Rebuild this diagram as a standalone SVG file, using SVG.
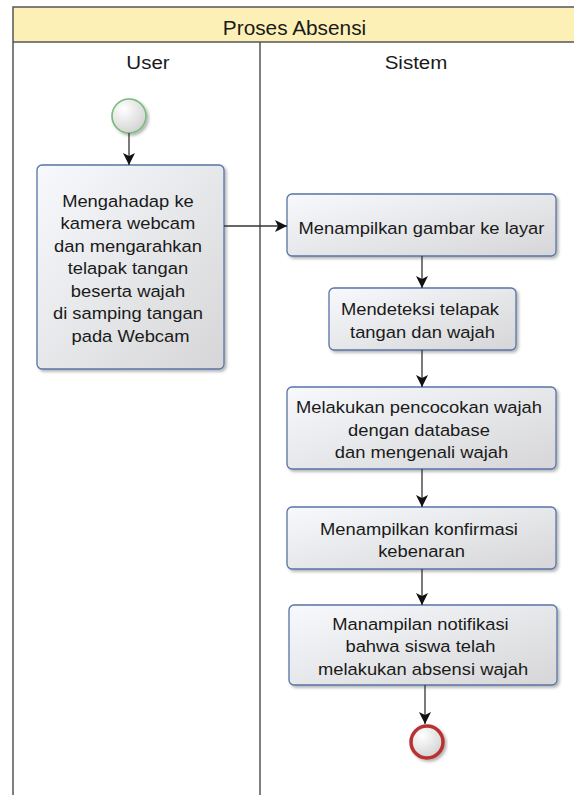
<svg xmlns="http://www.w3.org/2000/svg" width="574" height="795" viewBox="0 0 574 795">
<defs>
<linearGradient id="boxFill" x1="0" y1="0" x2="1" y2="1">
<stop offset="0" stop-color="#f7f9fc"/>
<stop offset="1" stop-color="#d6d6d8"/>
</linearGradient>
<radialGradient id="circFill" cx="0.35" cy="0.3" r="0.8">
<stop offset="0" stop-color="#ffffff"/>
<stop offset="1" stop-color="#cfcfcf"/>
</radialGradient>
<filter id="shadow" x="-10%" y="-10%" width="125%" height="130%">
<feDropShadow dx="2" dy="2" stdDeviation="1.5" flood-color="#000" flood-opacity="0.3"/>
</filter>
<marker id="arrow" viewBox="0 0 12 12" refX="12" refY="6" markerWidth="12" markerHeight="12" markerUnits="userSpaceOnUse" orient="auto">
<path d="M0,0 L12,6 L0,12 L3,6 Z" fill="#111"/>
</marker>
</defs>
<style>
.frame{fill:none;stroke:#555;stroke-width:1.5}
.box{fill:url(#boxFill);stroke:#5874a6;stroke-width:1.3;filter:url(#shadow)}
.t{font-family:"Liberation Sans",Arial,sans-serif;font-size:17px;fill:#1a1a1a;text-anchor:middle}
.h{font-family:"Liberation Sans",Arial,sans-serif;font-size:19px;fill:#1a1a1a;text-anchor:middle}
.conn{fill:none;stroke:#333;stroke-width:1.3;marker-end:url(#arrow)}
</style>
<rect x="0" y="0" width="574" height="795" fill="#ffffff"/>
<g id="pool">
<rect x="13" y="7" width="565" height="35" fill="#fdf0b6"/>
<rect x="13" y="7" width="565" height="800" class="frame"/>
<line x1="13" y1="42" x2="578" y2="42" class="frame"/>
<line x1="260" y1="42" x2="260" y2="800" class="frame"/>
<text class="h" transform="translate(294.5,35) scale(1.04,1)" style="font-size:20px">Proses Absensi</text>
<text class="h" transform="translate(148,69) scale(1.08,1)">User</text>
<text class="h" transform="translate(416,69) scale(1.08,1)">Sistem</text>
</g>
<g id="start">
<circle cx="129" cy="116" r="17" fill="url(#circFill)" stroke="#78bb78" stroke-width="1.6" filter="url(#shadow)"/>
</g>
<g id="b1">
<rect class="box" x="37" y="165" width="187" height="204" rx="5"/>
<text class="t" transform="translate(130.5,0) scale(1.08,1)">
<tspan x="0" y="207">Mengahadap ke</tspan>
<tspan x="0" y="229.5">kamera webcam</tspan>
<tspan x="0" y="252">dan mengarahkan</tspan>
<tspan x="0" y="274.5">telapak tangan</tspan>
<tspan x="0" y="297">beserta wajah</tspan>
<tspan x="0" y="319.5">di samping tangan</tspan>
<tspan x="0" y="342">pada Webcam</tspan>
</text>
</g>
<g id="b2">
<rect class="box" x="287" y="194" width="269" height="62" rx="5"/>
<text class="t" transform="translate(421.5,0) scale(1.08,1)"><tspan x="0" y="234">Menampilkan gambar ke layar</tspan></text>
</g>
<g id="b3">
<rect class="box" x="329" y="288" width="187" height="62" rx="5"/>
<text class="t" transform="translate(422.5,0) scale(1.08,1)">
<tspan x="0" y="315">Mendeteksi telapak</tspan>
<tspan x="0" y="338">tangan dan wajah</tspan>
</text>
</g>
<g id="b4">
<rect class="box" x="287" y="387" width="269" height="82" rx="5"/>
<text class="t" transform="translate(421.5,0) scale(1.08,1)">
<tspan x="0" y="413">Melakukan pencocokan wajah</tspan>
<tspan x="0" y="436">dengan database</tspan>
<tspan x="0" y="458">dan mengenali wajah</tspan>
</text>
</g>
<g id="b5">
<rect class="box" x="287" y="507" width="269" height="62" rx="5"/>
<text class="t" transform="translate(421.5,0) scale(1.08,1)">
<tspan x="0" y="535">Menampilkan konfirmasi</tspan>
<tspan x="0" y="557">kebenaran</tspan>
</text>
</g>
<g id="b6">
<rect class="box" x="289" y="605" width="268" height="80" rx="5"/>
<text class="t" transform="translate(423,0) scale(1.08,1)">
<tspan x="0" y="630">Manampilan notifikasi</tspan>
<tspan x="0" y="652.5">bahwa siswa telah</tspan>
<tspan x="0" y="675">melakukan absensi wajah</tspan>
</text>
</g>
<g id="end">
<circle cx="427" cy="742" r="16" fill="url(#circFill)" stroke="#b83232" stroke-width="3.5" filter="url(#shadow)"/>
</g>
<g id="connectors">
<line class="conn" x1="129" y1="133" x2="129" y2="165"/>
<line class="conn" x1="224" y1="226" x2="287" y2="226"/>
<line class="conn" x1="422" y1="256" x2="422" y2="288"/>
<line class="conn" x1="422" y1="350" x2="422" y2="387"/>
<line class="conn" x1="422" y1="469" x2="422" y2="507"/>
<line class="conn" x1="422" y1="569" x2="422" y2="605"/>
<line class="conn" x1="425" y1="685" x2="425" y2="724"/>
</g>
</svg>
